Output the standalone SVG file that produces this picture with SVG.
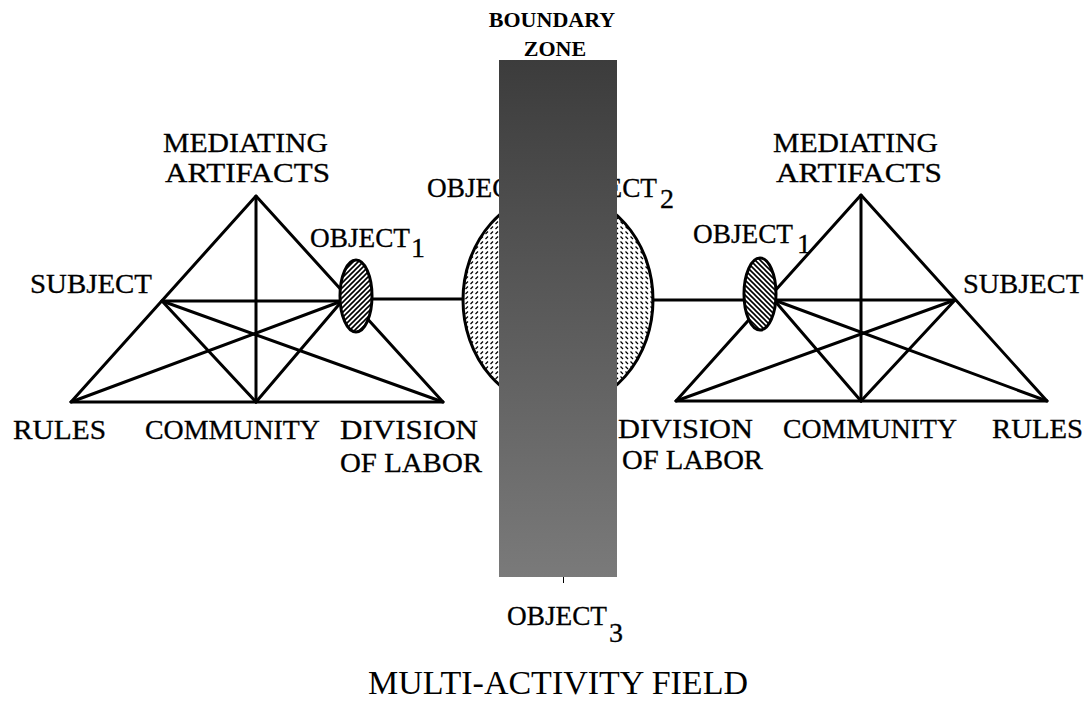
<svg xmlns="http://www.w3.org/2000/svg" width="1089" height="702" viewBox="0 0 1089 702">
<style>
.ln{stroke:#000;stroke-width:3;fill:none;stroke-linecap:round;stroke-linejoin:round}
.lb{font-family:"Liberation Serif","DejaVu Serif",serif;font-size:28px;fill:#000;stroke:#000;stroke-width:0.3}
.bz{font-family:"Liberation Serif","Times New Roman",serif;font-size:22px;font-weight:bold;fill:#000;text-anchor:middle}
.tt{font-family:"Liberation Serif","Times New Roman",serif;font-size:34px;fill:#000;text-anchor:middle}
</style>
<defs>
<pattern id="hatchR" patternUnits="userSpaceOnUse" width="5" height="5">
<path d="M-1,6 L6,-1 M-1,1 L1,-1 M4,6 L6,4" stroke="#000" stroke-width="1.6"/>
</pattern>
<pattern id="hatchL" patternUnits="userSpaceOnUse" width="5" height="5">
<path d="M-1,-1 L6,6 M-1,4 L1,6 M4,-1 L6,1" stroke="#000" stroke-width="1.6"/>
</pattern>
<pattern id="dashR" patternUnits="userSpaceOnUse" width="5" height="5">
<path d="M0.5,4 L3,1.5" stroke="#000" stroke-width="1.2"/>
</pattern>
<pattern id="dashL" patternUnits="userSpaceOnUse" width="5" height="5">
<path d="M0.5,1.5 L3,4" stroke="#000" stroke-width="1.2"/>
</pattern>
<linearGradient id="bzg" x1="0" y1="0" x2="0" y2="1">
<stop offset="0" stop-color="#3c3c3c"/>
<stop offset="1" stop-color="#7a7a7a"/>
</linearGradient>
</defs>
<rect width="1089" height="702" fill="#fff"/>

<g id="connectors">
<line class="ln" x1="373" y1="299" x2="463" y2="299"/>
<line class="ln" x1="653" y1="300" x2="743" y2="300"/>
<line stroke="#000" stroke-width="1" x1="563.5" y1="577" x2="563.5" y2="583"/>
</g>

<g id="left-activity-system">
<path class="ln" d="M256,196 L71,402 L443,402 Z"/>
<line class="ln" x1="256" y1="196" x2="256" y2="402"/>
<line class="ln" x1="162" y1="301" x2="342" y2="301"/>
<line class="ln" x1="162" y1="301" x2="256" y2="402"/>
<line class="ln" x1="162" y1="301" x2="443" y2="402"/>
<line class="ln" x1="342" y1="301" x2="256" y2="402"/>
<line class="ln" x1="342" y1="301" x2="71" y2="402"/>
<ellipse cx="356" cy="296" rx="16" ry="36" fill="#fff"/>
<ellipse cx="356" cy="296" rx="16" ry="36" fill="url(#hatchR)" stroke="#000" stroke-width="3"/>
<text class="lb" x="163" y="152" textLength="165" lengthAdjust="spacingAndGlyphs">MEDIATING</text>
<text class="lb" x="165" y="182" textLength="165" lengthAdjust="spacingAndGlyphs">ARTIFACTS</text>
<text class="lb" x="30" y="293" textLength="122" lengthAdjust="spacingAndGlyphs">SUBJECT</text>
<text class="lb" x="310" y="247" textLength="100" lengthAdjust="spacingAndGlyphs">OBJECT</text>
<text class="lb" x="411" y="257">1</text>
<text class="lb" x="13" y="439" textLength="93" lengthAdjust="spacingAndGlyphs">RULES</text>
<text class="lb" x="145" y="439" textLength="175" lengthAdjust="spacingAndGlyphs">COMMUNITY</text>
<text class="lb" x="340" y="439" textLength="138" lengthAdjust="spacingAndGlyphs">DIVISION</text>
<text class="lb" x="340" y="472" textLength="142" lengthAdjust="spacingAndGlyphs">OF LABOR</text>
</g>

<g id="right-activity-system">
<path class="ln" d="M861,195 L676,401 L1047,401 Z"/>
<line class="ln" x1="861" y1="195" x2="861" y2="401"/>
<line class="ln" x1="955" y1="300" x2="774" y2="300"/>
<line class="ln" x1="955" y1="300" x2="861" y2="401"/>
<line class="ln" x1="955" y1="300" x2="676" y2="401"/>
<line class="ln" x1="774" y1="300" x2="861" y2="401"/>
<line class="ln" x1="774" y1="300" x2="1047" y2="401"/>
<ellipse cx="760" cy="294" rx="16" ry="36" fill="#fff"/>
<ellipse cx="760" cy="294" rx="16" ry="36" fill="url(#hatchL)" stroke="#000" stroke-width="3"/>
<text class="lb" x="773" y="152" textLength="165" lengthAdjust="spacingAndGlyphs">MEDIATING</text>
<text class="lb" x="776" y="182" textLength="166" lengthAdjust="spacingAndGlyphs">ARTIFACTS</text>
<text class="lb" x="963" y="293" textLength="120" lengthAdjust="spacingAndGlyphs">SUBJECT</text>
<text class="lb" x="693" y="243" textLength="100" lengthAdjust="spacingAndGlyphs">OBJECT</text>
<text class="lb" x="797" y="253">1</text>
<text class="lb" x="618" y="438" textLength="135" lengthAdjust="spacingAndGlyphs">DIVISION</text>
<text class="lb" x="622" y="469" textLength="141" lengthAdjust="spacingAndGlyphs">OF LABOR</text>
<text class="lb" x="783" y="438" textLength="174" lengthAdjust="spacingAndGlyphs">COMMUNITY</text>
<text class="lb" x="992" y="438" textLength="91" lengthAdjust="spacingAndGlyphs">RULES</text>
</g>

<g id="shared-object">
<path d="M558,192 A95,108 0 0 0 558,408 Z" fill="url(#dashR)"/>
<path d="M558,192 A95,108 0 0 1 558,408 Z" fill="url(#dashL)"/>
<ellipse cx="558" cy="300" rx="95" ry="108" fill="none" stroke="#000" stroke-width="3"/>
<text class="lb" x="427" y="197" textLength="100" lengthAdjust="spacingAndGlyphs">OBJECT</text>
<text class="lb" x="529" y="207">1</text>
<text class="lb" x="557" y="197" textLength="100" lengthAdjust="spacingAndGlyphs">OBJECT</text>
<text class="lb" x="660" y="208">2</text>
</g>

<g id="boundary-zone">
<rect x="499" y="60" width="118" height="517" fill="url(#bzg)"/>
<text class="bz" x="552" y="27">BOUNDARY</text>
<text class="bz" x="555" y="56">ZONE</text>
</g>

<g id="object3">
<text class="lb" x="507" y="625" textLength="100" lengthAdjust="spacingAndGlyphs">OBJECT</text>
<text class="lb" x="609" y="642">3</text>
</g>

<g id="title">
<text class="tt" x="558" y="694">MULTI-ACTIVITY FIELD</text>
</g>
</svg>
